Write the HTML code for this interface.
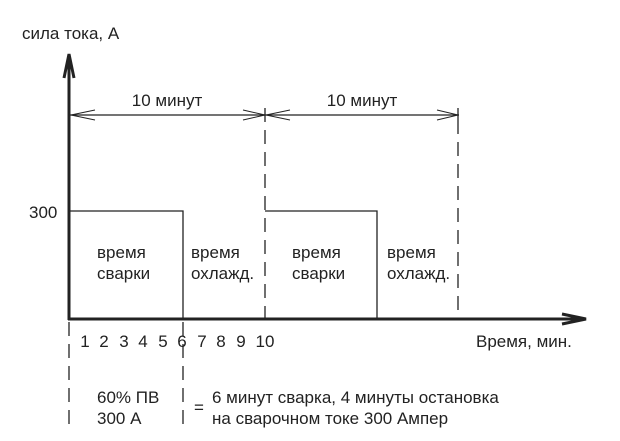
<!DOCTYPE html>
<html><head><meta charset="utf-8"><style>
html,body{margin:0;padding:0;background:#fff;width:620px;height:441px;overflow:hidden}
svg{display:block}
text{font-family:"Liberation Sans",sans-serif;font-size:17px;fill:#222}
</style></head><body>
<svg width="620" height="441" viewBox="0 0 620 441">
<g stroke="#222" fill="none">
<line x1="69" y1="60" x2="69" y2="320" stroke-width="3"/>
<path d="M64,78 L69,54 L74,78" stroke-width="3" fill="none"/>
<line x1="68" y1="319" x2="580" y2="319" stroke-width="3"/>
<path d="M562,314 L586,319 L562,324" stroke-width="3" fill="none"/>
<path d="M69,211 H183 V319" stroke-width="1.3"/>
<path d="M265,211 H377 V319" stroke-width="1.3"/>
<line x1="69" y1="115" x2="459" y2="115" stroke-width="1.3"/>
<path d="M95,110 L71,115 L95,120" stroke-width="1"/>
<path d="M243,110 L265,115 L243,120" stroke-width="1"/>
<path d="M290,110 L266,115 L290,120" stroke-width="1"/>
<path d="M437,110 L458,115 L437,120" stroke-width="1"/>
<line x1="458" y1="108" x2="458" y2="120" stroke-width="1.3"/>
<line x1="265" y1="108" x2="265" y2="319" stroke-width="1.3" stroke-dasharray="14,8"/>
<line x1="458" y1="120" x2="458" y2="319" stroke-width="1.3" stroke-dasharray="14,8"/>
<line x1="69" y1="322" x2="69" y2="426" stroke-width="1.3" stroke-dasharray="14,8"/>
<line x1="183" y1="322" x2="183" y2="426" stroke-width="1.3" stroke-dasharray="14,8"/>
</g>
<text x="22" y="39">сила тока, А</text>
<text x="167" y="106" text-anchor="middle">10 минут</text>
<text x="362" y="106" text-anchor="middle">10 минут</text>
<text x="29" y="218">300</text>
<text x="97" y="258">время</text>
<text x="97" y="279">сварки</text>
<text x="191" y="258">время</text>
<text x="191" y="279">охлажд.</text>
<text x="292" y="258">время</text>
<text x="292" y="279">сварки</text>
<text x="387" y="258">время</text>
<text x="387" y="279">охлажд.</text>
<g text-anchor="middle">
<text x="85" y="347">1</text><text x="104" y="347">2</text><text x="124" y="347">3</text>
<text x="143" y="347">4</text><text x="163" y="347">5</text><text x="182" y="347">6</text>
<text x="202" y="347">7</text><text x="221" y="347">8</text><text x="241" y="347">9</text>
<text x="265" y="347">10</text>
</g>
<text x="476" y="347">Время, мин.</text>
<text x="97" y="403">60% ПВ</text>
<text x="97" y="424">300 А</text>
<text x="194" y="413">=</text>
<text x="212" y="403">6 минут сварка, 4 минуты остановка</text>
<text x="212" y="424">на сварочном токе 300 Ампер</text>
</svg>
</body></html>
